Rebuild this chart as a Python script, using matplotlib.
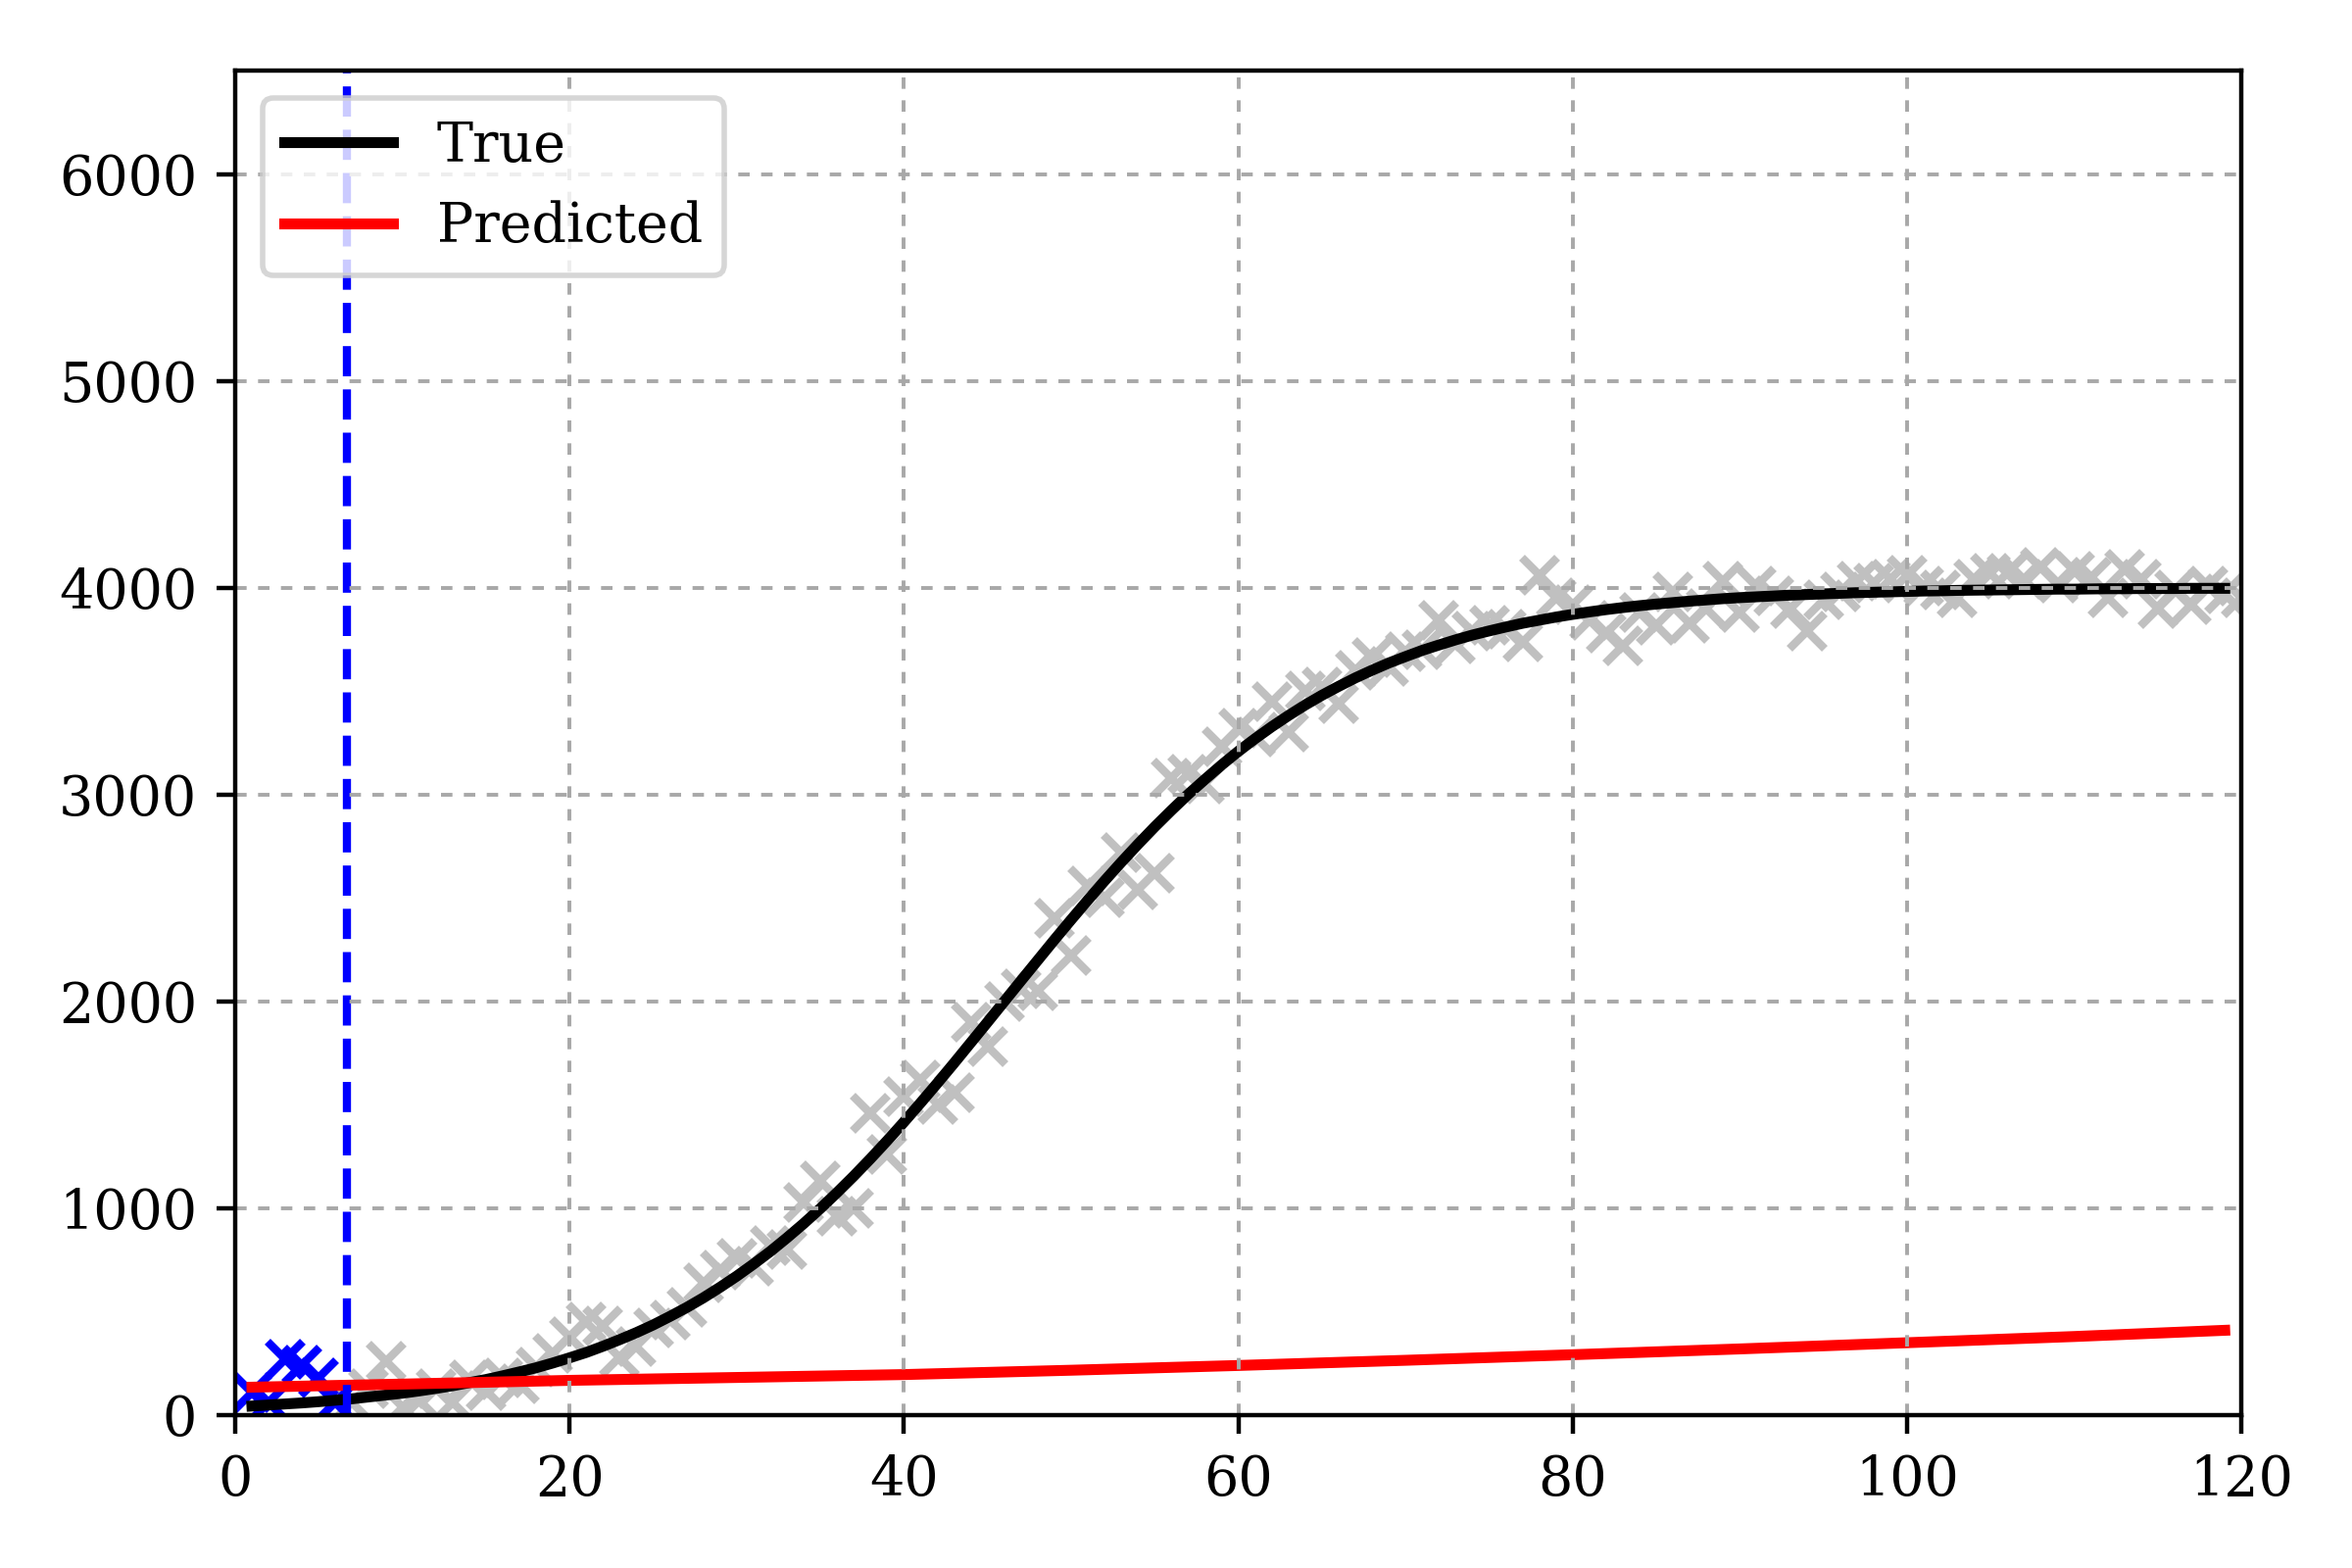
import numpy as np
import matplotlib
matplotlib.use('Agg')
import matplotlib.pyplot as plt

plt.rcParams['font.family'] = 'serif'
plt.rcParams['font.serif'] = ['DejaVu Serif']

# noisy observations, one per day
obs_t = np.arange(1, 121)
obs_y = [110, 60, 270, 240, 180, 60, 60, 130, 260, 40,
         70, 130, 60, 170, 120, 180, 150, 230, 300, 380,
         450, 430, 280, 330, 420, 460, 520, 640, 700, 760,
         720, 820, 800, 1030, 1130, 960, 1000, 1460, 1260, 1540,
         1620, 1500, 1560, 1900, 1780, 2000, 2060, 2050, 2400, 2220,
         2560, 2500, 2720, 2540, 2620, 3080, 3100, 3050, 3230, 3320,
         3280, 3450, 3300, 3500, 3520, 3440, 3600, 3660, 3620, 3690,
         3700, 3840, 3730, 3790, 3820, 3800, 3740, 4060, 3950, 3920,
         3840, 3780, 3720, 3880, 3820, 3980, 3830, 3900, 4030, 3880,
         4010, 3960, 3900, 3790, 3940, 3980, 4030, 4020, 4040, 4060,
         4010, 3990, 3950, 4040, 4070, 4070, 4040, 4100, 4020, 4080,
         4050, 3950, 4090, 4040, 3900, 3990, 3920, 4010, 3970, 3950]
n_train = 6
t_cut = 6.7

# true curve
true_t = np.arange(1, 120)
true_y = [44, 49, 54, 59, 65, 72, 79, 88, 97, 106,
          117, 129, 142, 157, 172, 190, 209, 229, 252, 277,
          303, 333, 365, 399, 436, 477, 520, 567, 618, 672,
          730, 791, 857, 926, 999, 1076, 1156, 1240, 1327, 1417,
          1510, 1605, 1702, 1801, 1900, 2000, 2100, 2199, 2298, 2395,
          2490, 2583, 2673, 2760, 2844, 2924, 3001, 3073, 3143, 3209,
          3270, 3328, 3382, 3433, 3480, 3523, 3564, 3601, 3636, 3667,
          3697, 3723, 3748, 3771, 3791, 3810, 3828, 3843, 3858, 3871,
          3883, 3894, 3904, 3913, 3921, 3928, 3935, 3941, 3947, 3952,
          3956, 3960, 3964, 3967, 3970, 3973, 3976, 3978, 3980, 3982,
          3984, 3985, 3987, 3988, 3989, 3990, 3991, 3992, 3993, 3993,
          3994, 3995, 3995, 3996, 3996, 3996, 3997, 3997, 3997]

# model prediction
pred_t = [1, 10, 20, 30, 40, 50, 60, 70, 80, 90, 100, 110, 119]
pred_y = [135, 150, 168, 182, 196, 217, 240, 265, 292, 320, 350, 380, 410]

fig, ax = plt.subplots(figsize=(6, 4), dpi=400)
fig.subplots_adjust(left=0.1, right=0.953, top=0.955, bottom=0.0975)

ax.plot(obs_t[n_train:], obs_y[n_train:], 'x', color='silver', ms=6.5, mew=1.5)
ax.plot(obs_t[:n_train], obs_y[:n_train], 'x', color='blue', ms=6.5, mew=1.5)
ax.plot(true_t, true_y, color='black', lw=2, label='True')
ax.plot(pred_t, pred_y, color='red', lw=2, label='Predicted')
ax.axvline(t_cut, color='blue', ls='--', lw=1.5)

ax.set_xlim(0, 120)
ax.set_ylim(0, 6500)
ax.set_xticks([0, 20, 40, 60, 80, 100, 120])
ax.set_yticks([0, 1000, 2000, 3000, 4000, 5000, 6000])
ax.set_axisbelow(False)
ax.grid(color='#a8a8a8', ls=(0, (3, 3)), lw=0.7)
for sp in ax.spines.values():
    sp.set_zorder(3)
ax.legend(loc='upper left')

fig.savefig('out.png', dpi=400)
